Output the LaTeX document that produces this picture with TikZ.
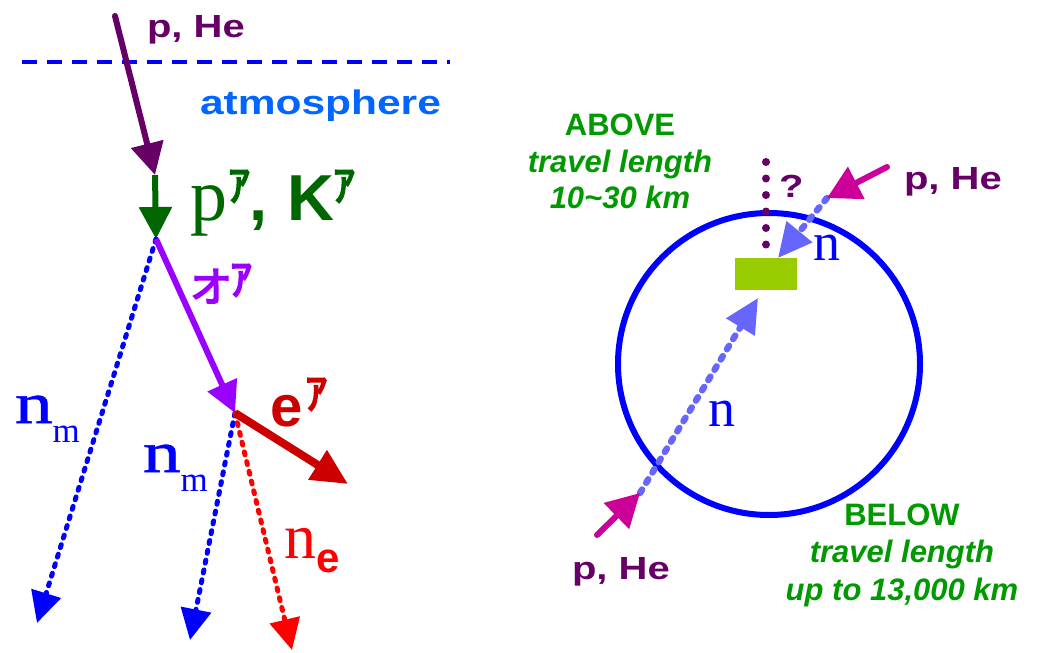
\documentclass[tikz,border=0pt]{standalone}
\usepackage{fontspec}
\setmainfont{Liberation Sans}
\newfontfamily\wsans[FakeStretch=1.25]{Liberation Sans}
\newfontfamily\tserif{Liberation Serif}
\newfontfamily\wserif[FakeStretch=1.3,FakeBold=1]{Liberation Serif}
\newfontfamily\cjk{Noto Sans CJK JP}
\usetikzlibrary{arrows.meta}
\definecolor{dpurple}{HTML}{660066}
\definecolor{atmblue}{HTML}{0066FF}
\definecolor{pblue}{HTML}{0000FF}
\definecolor{dgreen}{HTML}{006600}
\definecolor{violet}{HTML}{9900FF}
\definecolor{dred}{HTML}{CC0000}
\definecolor{pred}{HTML}{FF0000}
\definecolor{lime}{HTML}{99CC00}
\definecolor{magenta}{HTML}{CC0099}
\definecolor{lblue}{HTML}{6666FF}
\definecolor{tgreen}{HTML}{009900}
\newcommand\fs[1]{\fontsize{#1}{#1}\selectfont}
% bold CJK glyphs: fill and stroke text rendering
\newcommand\fb[1]{\special{pdf:literal direct q 2 Tr 1.6 w}#1\special{pdf:literal direct Q}}
\tikzset{
  txt/.style={inner sep=0pt, outer sep=0pt, anchor=base west},
  ctxt/.style={inner sep=0pt, outer sep=0pt, anchor=base, font=\bfseries\itshape\fs{31}, text=tgreen},
  bigtip/.style={-{Triangle[length=#1, width=#1]}},
  solidarrow/.style={line width=6pt, line cap=round},
  nudots/.style={line width=5pt, line cap=round, dash pattern=on 3pt off 7pt},
  ldash/.style={line width=6.5pt, line cap=round, dash pattern=on 4pt off 8pt, draw=lblue},
}
\begin{document}
\begin{tikzpicture}[x=1pt,y=-1pt]
\useasboundingbox (0,0) rectangle (1037,653);
% ---------- left: atmosphere shower ----------
\coordinate (src) at (115,16);
\coordinate (v0) at (155,175);
\coordinate (v1) at (156,239);
\coordinate (v2) at (235,413);
\coordinate (atmL) at (22,62);
\coordinate (atmR) at (450,62);
\coordinate (tnm1) at (37,623);
\coordinate (tnm2) at (190,640);
\coordinate (tne) at (292,650);
\coordinate (te) at (348,484);

\draw[pblue, line width=3.5pt, dash pattern=on 15pt off 10pt] (atmL) -- (atmR);
\draw[dpurple, solidarrow, bigtip=32pt] (src) -- (v0);
\draw[dgreen, line width=6pt, bigtip=32pt] (v0) -- (v1);
\draw[pblue, nudots, -{Triangle[length=31pt,width=30pt]}] (v1) -- (tnm1);
\draw[violet, line width=6pt, bigtip=31pt] (v1) -- (v2);
\draw[pblue, nudots, -{Triangle[length=31pt,width=30pt]}] (v2) -- (tnm2);
\draw[pred, nudots, -{Triangle[length=31pt,width=30pt]}] (v2) -- (tne);
\draw[dred, line width=8pt, -{Triangle[length=36pt,width=33pt]}] (v2) -- (te);

\node[txt, text=dpurple, font=\wsans\bfseries\fs{32}] (phe1) at (147,37) {p, He};
\node[txt, text=atmblue, font=\wsans\bfseries\fs{34}] (atm) at (200,114) {atmosphere};
\node[txt, text=dgreen] (pk) at (190,220) {{\tserif\fs{74}p}\kern1pt\raisebox{19pt}{\cjk\fs{44}\fb{ｱ}}\kern-1pt{\bfseries\fs{65},\hspace{20pt}K}\kern-1pt\raisebox{19pt}{\cjk\fs{44}\fb{ｱ}}};
\node[txt, text=violet] (pi) at (190,302) {{\cjk\fs{42}\fb{オ}}\kern-2pt\raisebox{7pt}{\cjk\fs{44}\fb{ｱ}}};
\node[txt, text=dred] (el) at (270,426) {{\bfseries\fs{58}e}\kern3pt\raisebox{17pt}{\cjk\fs{44}\fb{ｱ}}};
\node[txt, text=pblue] (nm1) at (15,423) {{\wserif\fs{58}n}\raisebox{-19pt}{\tserif\fs{35}m}};
\node[txt, text=pblue] (nm2) at (143,472) {{\wserif\fs{58}n}\raisebox{-19pt}{\tserif\fs{35}m}};
\node[txt, text=pred] (ne) at (284,558) {{\tserif\fs{64}n}\raisebox{-14pt}{\bfseries\fs{42}e}};

% ---------- right: earth ----------
\coordinate (ctr) at (769,364);
\draw[pblue, line width=6pt] (ctr) circle[radius=151];
\node[fill=lime, minimum width=62pt, minimum height=32pt, inner sep=0pt] (det) at (766,274) {};
\coordinate (q1) at (766,162);
\coordinate (q2) at (766,245);
\draw[dpurple, line width=8pt, line cap=round, dash pattern=on 0pt off 16.5pt] (q1) -- (q2);

\coordinate (mtail1) at (887,167);
\coordinate (mtip1) at (827,198);
\coordinate (ntip1) at (778,258);
\coordinate (mtail2) at (597,535);
\coordinate (mtip2) at (640,493);
\coordinate (ntip2) at (758,298);

\draw[ldash, -{Triangle[length=34pt,width=32pt]}] (mtip1) -- (ntip1);
\draw[ldash, -{Triangle[length=34pt,width=32pt]}] (mtip2) -- (ntip2);
\draw[magenta, solidarrow, -{Triangle[length=33pt,width=35pt]}] (mtail1) -- (mtip1);
\draw[magenta, solidarrow, -{Triangle[length=33pt,width=35pt]}] (mtail2) -- (mtip2);

\node[txt, text=dpurple, font=\wsans\bfseries\fs{32}] (q) at (779,197) {?};
\node[txt, text=dpurple, font=\wsans\bfseries\fs{32}] (phe2) at (904,189) {p, He};
\node[txt, text=dpurple, font=\wsans\bfseries\fs{32}] (phe3) at (572,579) {p, He};
\node[txt, text=pblue, font=\tserif\fs{54}] (n1) at (813,260) {n};
\node[txt, text=pblue, font=\tserif\fs{54}] (n2) at (708,426) {n};

\node[ctxt, font=\bfseries\fs{31}] (ab1) at (620,135) {ABOVE};
\node[ctxt] (ab2) at (620,172) {travel length};
\node[ctxt] (ab3) at (620,208) {10\textasciitilde30 km};
\node[ctxt, font=\bfseries\fs{31}] (be1) at (902,525) {BELOW};
\node[ctxt] (be2) at (902,562) {travel length};
\node[ctxt] (be3) at (902,600) {up to 13,000 km};
\end{tikzpicture}
\end{document}
